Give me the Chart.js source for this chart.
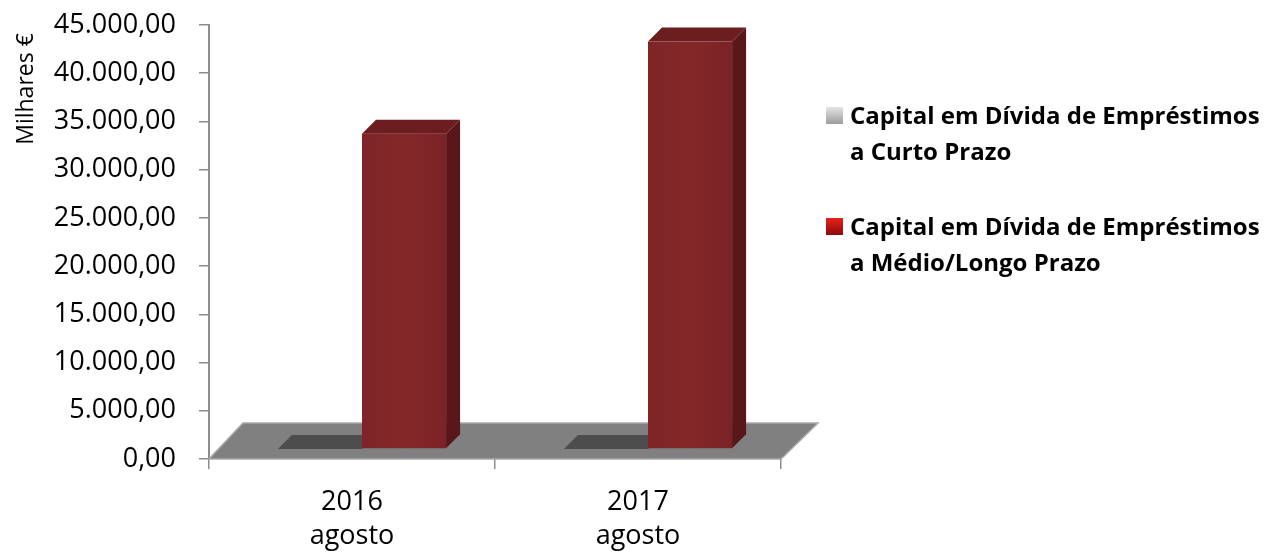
<!DOCTYPE html>
<html>
<head>
<meta charset="utf-8">
<script src="https://cdn.jsdelivr.net/npm/chart.js@4/dist/chart.umd.min.js"></script>
<style>
  body { margin: 0; background: #fff; }
  #wrap { position: relative; width: 1268px; height: 555px; }
  #legend { position: absolute; left: 826px; top: 97px; font-family: 'Open Sans', sans-serif; font-weight: bold; font-size: 24px; line-height: 36px; color: #000; }
  .item { position: relative; padding-left: 24px; margin-bottom: 39px; white-space: nowrap; }
  .mark { position: absolute; left: 0; top: 10px; width: 17px; height: 17px; }
</style>
</head>
<body>
<div id="wrap">
  <canvas id="chart" width="1268" height="555"></canvas>
  <div id="legend"></div>
</div>
<script>
const categories = [['2016', 'agosto'], ['2017', 'agosto']];
const seriesLabels = [
  ['Capital em Dívida de Empréstimos', 'a Curto Prazo'],
  ['Capital em Dívida de Empréstimos', 'a Médio/Longo Prazo']
];
const curtoPrazo = [0, 0];
const medioLongoPrazo = [32700, 42250];
const yMax = 45000;
const yStep = 5000;
const yTitle = 'Milhares €';
const markerColors = [
  'linear-gradient(#e4e4e4, #9c9c9c)',
  'linear-gradient(#e8201c, #8c0a0a)'
];

function fmt(v) {
  const parts = v.toFixed(2).split('.');
  return parts[0].replace(/\B(?=(\d{3})+(?!\d))/g, '.') + ',' + parts[1];
}

// legend
const legend = document.getElementById('legend');
seriesLabels.forEach((lines, i) => {
  const item = document.createElement('div');
  item.className = 'item';
  item.innerHTML = `<span class="mark" style="background:${markerColors[i]}"></span>` + lines.join('<br>');
  legend.appendChild(item);
});

const front = { dx: 10, dy: -10 };
const depth = { dx: 14, dy: -14 };

const floor3d = {
  id: 'floor3d',
  beforeDatasetsDraw(chart) {
    const ctx = chart.ctx;
    const a = chart.chartArea;
    ctx.save();
    ctx.beginPath();
    ctx.moveTo(a.left, a.bottom);
    ctx.lineTo(a.right, a.bottom);
    ctx.lineTo(a.right + 37, a.bottom - 36);
    ctx.lineTo(a.left + 34, a.bottom - 36);
    ctx.closePath();
    ctx.fillStyle = '#808080';
    ctx.fill();
    ctx.strokeStyle = '#a8a8a8';
    ctx.lineWidth = 1.5;
    ctx.stroke();
    ctx.restore();
  },
  afterDatasetsDraw(chart) {
    const ctx = chart.ctx;
    const n = chart.data.labels.length;
    ctx.save();
    for (let i = 0; i < n; i++) {
      chart.data.datasets.forEach((ds, di) => {
        const el = chart.getDatasetMeta(di).data[i];
        const w = el.width;
        const l = el.x - w / 2 + front.dx;
        const r = el.x + w / 2 + front.dx;
        const t = el.y + front.dy;
        const b = el.base + front.dy;
        if (Math.abs(b - t) < 1) {
          ctx.fillStyle = '#4d4d4d';
          ctx.beginPath();
          ctx.moveTo(l, b);
          ctx.lineTo(r, b);
          ctx.lineTo(r + depth.dx, b + depth.dy);
          ctx.lineTo(l + depth.dx, b + depth.dy);
          ctx.closePath();
          ctx.fill();
          return;
        }
        // right side
        ctx.fillStyle = '#5a1719';
        ctx.beginPath();
        ctx.moveTo(r, t);
        ctx.lineTo(r + depth.dx, t + depth.dy);
        ctx.lineTo(r + depth.dx, b + depth.dy);
        ctx.lineTo(r, b);
        ctx.closePath();
        ctx.fill();
        // top
        ctx.fillStyle = '#6c1d1f';
        ctx.beginPath();
        ctx.moveTo(l, t);
        ctx.lineTo(l + depth.dx, t + depth.dy);
        ctx.lineTo(r + depth.dx, t + depth.dy);
        ctx.lineTo(r, t);
        ctx.closePath();
        ctx.fill();
        // front
        const g = ctx.createLinearGradient(l, 0, r, 0);
        g.addColorStop(0, '#7e2427');
        g.addColorStop(0.5, '#852729');
        g.addColorStop(1, '#7a2326');
        ctx.fillStyle = g;
        ctx.fillRect(l, t, r - l, b - t);
      });
    }
    ctx.restore();
  },
  afterDraw(chart) {
    // axis title, placed near the top like the original
    const ctx = chart.ctx;
    ctx.save();
    ctx.translate(33, 89);
    ctx.rotate(-Math.PI / 2);
    ctx.font = '23px "Open Sans"';
    ctx.fillStyle = '#000';
    ctx.textAlign = 'center';
    ctx.textBaseline = 'alphabetic';
    ctx.fillText(yTitle, 0, 0);
    ctx.restore();
  }
};

new Chart(document.getElementById('chart'), {
  type: 'bar',
  data: {
    labels: categories,
    datasets: [
      { label: seriesLabels[0].join(' '), data: curtoPrazo, backgroundColor: 'rgba(0,0,0,0)' },
      { label: seriesLabels[1].join(' '), data: medioLongoPrazo, backgroundColor: 'rgba(0,0,0,0)' }
    ]
  },
  options: {
    responsive: false,
    animation: false,
    events: [],
    layout: { padding: { left: 0, top: 25, right: 487, bottom: 0 } },
    datasets: { bar: { categoryPercentage: 0.588, barPercentage: 1.0 } },
    plugins: { legend: { display: false }, tooltip: { enabled: false } },
    scales: {
      x: {
        grid: { display: true, drawOnChartArea: false, offset: true, color: '#8c8c8c', lineWidth: 1.5, tickLength: 10 },
        border: { display: false },
        ticks: { color: '#000', padding: 16, font: { family: 'Open Sans', size: 27, lineHeight: 1.27 } },
        afterFit(scale) { scale.height = 96; }
      },
      y: {
        min: 0,
        max: yMax,
        ticks: {
          stepSize: yStep,
          color: '#000',
          padding: 23,
          font: { family: 'Open Sans', size: 27 },
          callback: v => fmt(v)
        },
        grid: { display: true, drawOnChartArea: false, color: '#8c8c8c', lineWidth: 1.5, tickLength: 10 },
        border: { display: true, color: '#8c8c8c', width: 2 },
        afterFit(scale) {
          scale.width = 209;
          scale.paddingTop = 0;
          scale.paddingBottom = 0;
        }
      }
    }
  },
  plugins: [floor3d]
});
</script>
</body>
</html>
